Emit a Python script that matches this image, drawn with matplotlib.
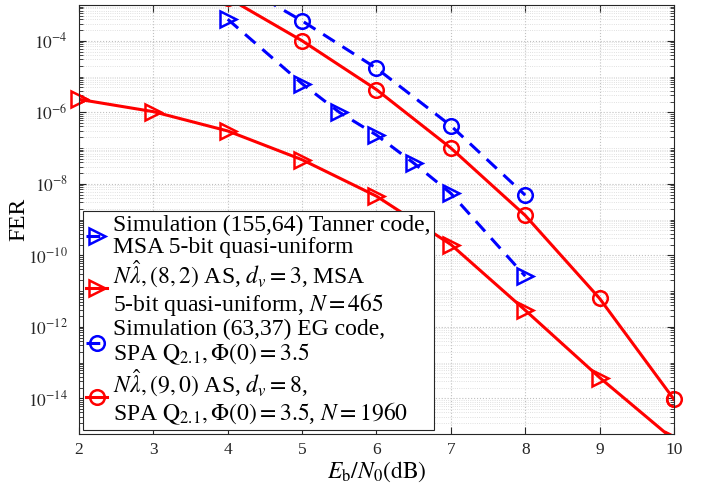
import numpy as np
import matplotlib
matplotlib.use('Agg')
from matplotlib import pyplot as plt
from matplotlib.ticker import LogLocator, FixedLocator, NullFormatter

#font setup (Times-like, LaTeX style math)
plt.rcParams['font.family'] = 'Liberation Serif'
plt.rcParams['mathtext.fontset'] = 'stix'

#data
snr_tanner = [4, 5, 5.5, 6, 6.5, 7, 8]
fer_tanner = [4.0e-4, 6.3e-6, 1.0e-6, 2.3e-7, 3.8e-8, 5.4e-9, 2.6e-11]

snr_as82 = [2, 3, 4, 5, 6, 7, 8, 9, 10]
fer_as82 = [2.3e-6, 1.04e-6, 3.0e-7, 4.7e-8, 4.5e-9, 2.0e-10, 2.9e-12, 3.8e-14, 6.8e-16]

snr_eg = [4, 5, 6, 7, 8]
fer_eg = [5.7e-3, 3.6e-4, 1.7e-5, 4.2e-7, 4.8e-9]

snr_as90 = [4, 5, 6, 7, 8, 9, 10]
fer_as90 = [1.6e-3, 1.0e-4, 4.3e-6, 1.0e-7, 1.3e-9, 6.2e-12, 9.3e-15]

labels = [
    'Simulation (155,64) Tanner code,\nMSA 5-bit quasi-uniform',
    r'$N\hat{\lambda},(8,2)$ AS, $d_v=3$, MSA' + '\n' + r'5-bit quasi-uniform, $N=465$',
    'Simulation (63,37) EG code,\n' + r'SPA $\mathrm{Q}_{2.1},\Phi(0)=3.5$',
    r'$N\hat{\lambda},(9,0)$ AS, $d_v=8$,' + '\n' + r'SPA $\mathrm{Q}_{2.1},\Phi(0)=3.5$, $N=1960$',
]

fig = plt.figure(figsize=(7.09, 4.87), dpi=100)
ax = fig.add_axes([0.1114, 0.1088, 0.8392, 0.8809])

blue = '#0000ff'
red = '#ff0000'
ms_t = 12
ms_c = 10.5
mew = 1.8
lw = 2.2

ax.semilogy(snr_tanner, fer_tanner, '--', color=blue, lw=lw, marker='>',
            ms=ms_t, mfc='none', mew=mew, dashes=(4.5, 3), label=labels[0])
ax.semilogy(snr_as82, fer_as82, '-', color=red, lw=lw, marker='>',
            ms=ms_t, mfc='none', mew=mew, label=labels[1])
ax.semilogy(snr_eg, fer_eg, '--', color=blue, lw=lw, marker='o',
            ms=ms_c, mfc='none', mew=mew, dashes=(4.5, 3), label=labels[2])
ax.semilogy(snr_as90, fer_as90, '-', color=red, lw=lw, marker='o',
            ms=ms_c, mfc='none', mew=mew, label=labels[3])

#markers sitting on the axes edge are drawn whole
ax.plot(snr_as82[:1], fer_as82[:1], ls='none', color=red, marker='>',
        ms=ms_t, mfc='none', mew=mew, clip_on=False)
ax.plot(snr_as90[-1:], fer_as90[-1:], ls='none', color=red, marker='o',
        ms=ms_c, mfc='none', mew=mew, clip_on=False)

ax.set_xlim(2, 10)
ax.set_ylim(1e-15, 1e-3)
ax.set_xticks(range(2, 11))
ax.yaxis.set_major_locator(FixedLocator([10.0**k for k in range(-14, -3, 2)]))
ax.yaxis.set_minor_locator(LogLocator(base=10, subs=np.arange(1, 10), numticks=50))
ax.yaxis.set_minor_formatter(NullFormatter())
ax.set_yticklabels([r'$10^{\mathsf{-}%d}$' % -k for k in range(-14, -3, 2)])

ax.tick_params(which='both', direction='in', top=True, right=True, labelsize=12.5,
               colors='#262626')
ax.tick_params(which='major', length=5, pad=6)
ax.tick_params(which='minor', length=3)
ax.tick_params(axis='y', which='major', pad=8)
ax.grid(True, which='major', ls=':', color='#c0c0c0', lw=0.8)
ax.grid(True, which='minor', axis='y', ls=':', color='#d6d6d6', lw=0.6)
for sp in ax.spines.values():
    sp.set_color('#262626')
    sp.set_linewidth(0.8)

ax.set_xlabel(r'$E_{\mathrm{b}}/N_0(\mathrm{dB})$', fontsize=17, labelpad=1)
ax.set_ylabel('FER', fontsize=17)
ax.yaxis.set_label_coords(-0.083, 0.5)

leg = ax.legend(loc='lower left', fontsize=17, handlelength=0.9, handletextpad=0.25,
                labelspacing=0.05, borderaxespad=0.15, borderpad=0.15,
                fancybox=False, framealpha=1, edgecolor='#262626')
leg.get_frame().set_linewidth(0.8)
for t in leg.get_texts():
    t.set_linespacing(1.05)

plt.savefig('out.png', dpi=100)
